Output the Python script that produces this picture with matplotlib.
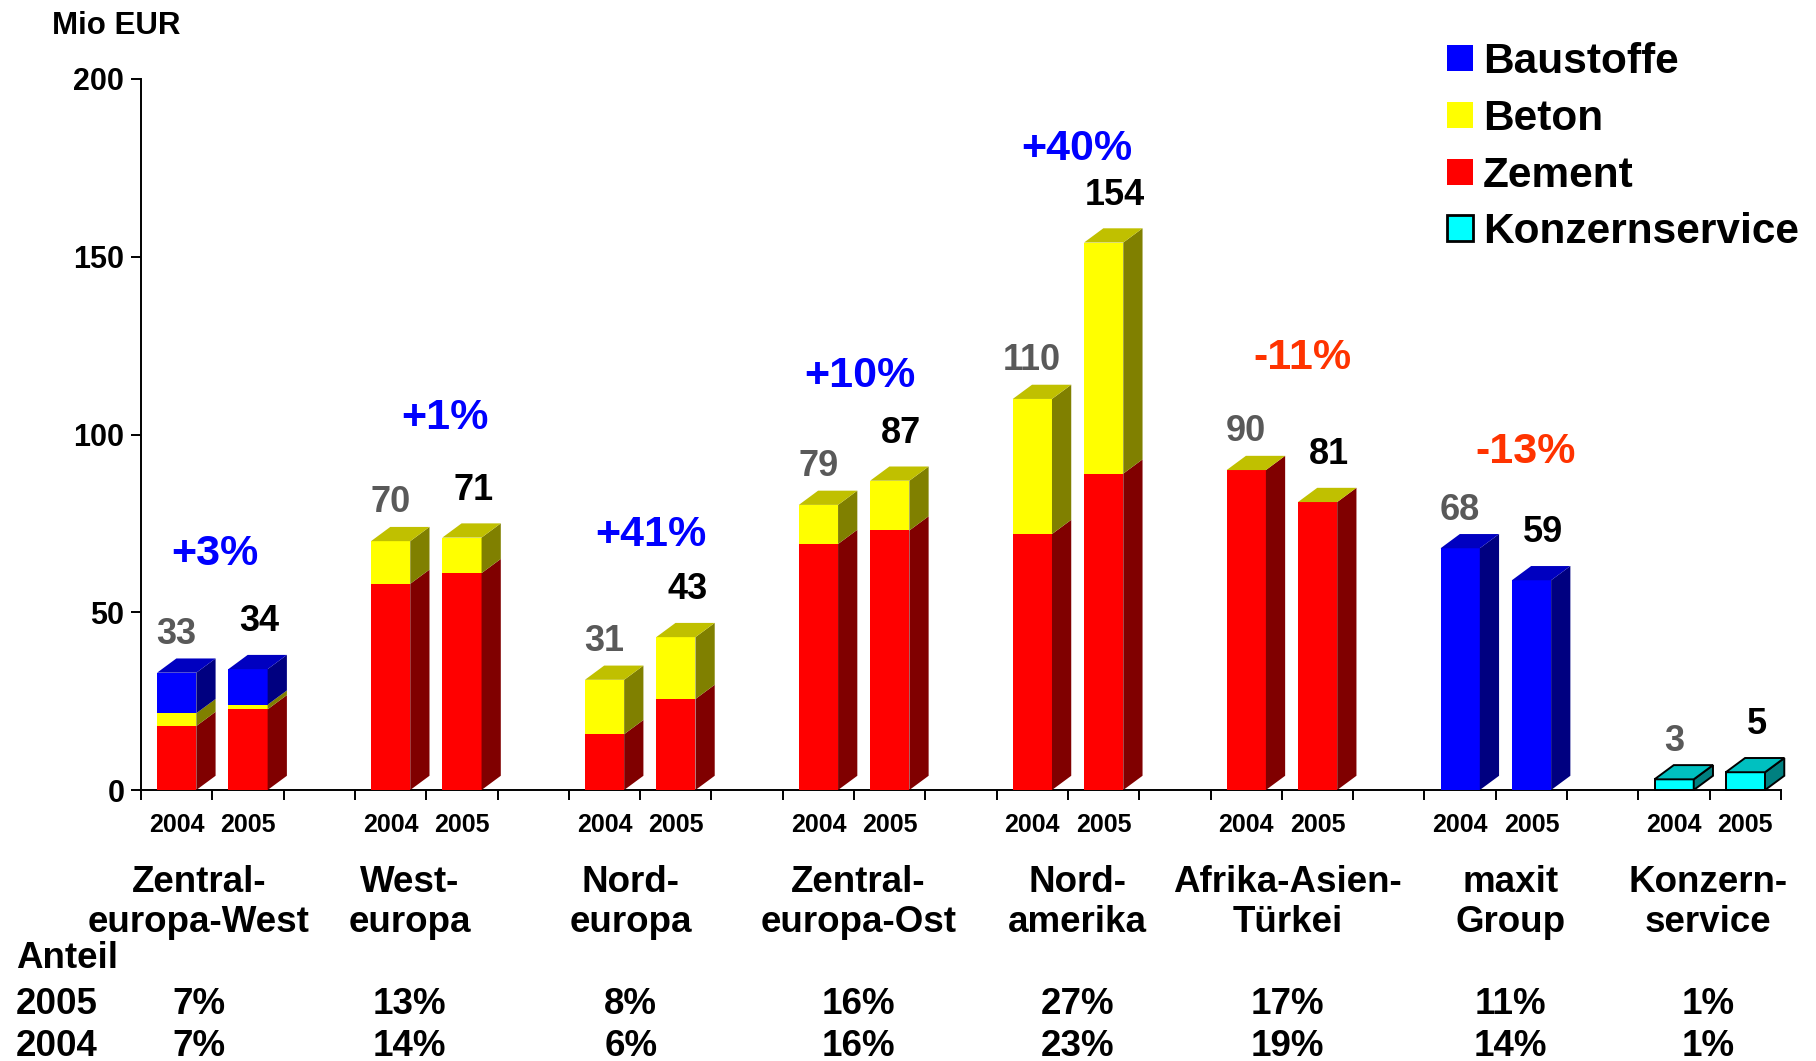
import matplotlib
matplotlib.use('Agg')
import matplotlib.pyplot as plt
from matplotlib.patches import Polygon, Rectangle
from matplotlib import transforms

# ---------------- data ----------------
groups = [['Zentral-', 'europa-West'], ['West-', 'europa'], ['Nord-', 'europa'],
          ['Zentral-', 'europa-Ost'], ['Nord-', 'amerika'], ['Afrika-Asien-', 'Türkei'],
          ['maxit', 'Group'], ['Konzern-', 'service']]
years = ['2004', '2005']

zement_2004 = [18.0, 58.0, 15.7, 69.2, 72.0, 90.0, None, None]
zement_2005 = [22.7, 61.0, 25.6, 73.0, 89.0, 81.0, None, None]
beton_2004 = [3.6, 12.0, 15.3, 11.0, 38.0, 0.0, None, None]
beton_2005 = [1.3, 10.0, 17.4, 14.0, 65.0, 0.0, None, None]
baustoffe_2004 = [11.4, None, None, None, None, None, 68.0, None]
baustoffe_2005 = [10.0, None, None, None, None, None, 59.0, None]
konzern_2004 = [None, None, None, None, None, None, None, 3.0]
konzern_2005 = [None, None, None, None, None, None, None, 5.0]

totals_2004 = ['33', '70', '31', '79', '110', '90', '68', '3']
totals_2005 = ['34', '71', '43', '87', '154', '81', '59', '5']
changes = ['+3%', '+1%', '+41%', '+10%', '+40%', '-11%', '-13%']
share_2005 = ['7%', '13%', '8%', '16%', '27%', '17%', '11%', '1%']
share_2004 = ['7%', '14%', '6%', '16%', '23%', '19%', '14%', '1%']

legend_names = ['Baustoffe', 'Beton', 'Zement', 'Konzernservice']

# ---------------- layout / style ----------------
W, H, DPI = 1816, 1061, 100
plt.rcParams['font.family'] = ['Liberation Sans', 'DejaVu Sans']
plt.rcParams['font.weight'] = 'bold'

AX_L, AX_R, AX_B, AX_T = 141, 1781, 790, 79  # pixel box of the axes
N_SLOTS = 23
BAR_OFF, BAR_W = 0.226, 0.55
DX, DY = 0.27, 4.0

pct_xy = [(1.03, 67.7), (4.26, 106.0), (7.15, 72.9), (10.08, 117.7),
          (13.13, 181.5), (16.29, 122.7), (19.42, 96.2)]
col_x = [0.81, 3.77, 6.87, 10.06, 13.13, 16.08, 19.21, 21.98]

styles = {
    'Zement':         ('#FF0000', '#800000', '#C00000', 'none', 0),
    'Beton':          ('#FFFF00', '#808000', '#C0C000', 'none', 0),
    'Baustoffe':      ('#0000FF', '#000080', '#0000C0', 'none', 0),
    'Konzernservice': ('#00FFFF', '#008080', '#00C0C0', 'black', 1.4),
}
stack_2004 = [('Zement', zement_2004), ('Beton', beton_2004),
              ('Baustoffe', baustoffe_2004), ('Konzernservice', konzern_2004)]
stack_2005 = [('Zement', zement_2005), ('Beton', beton_2005),
              ('Baustoffe', baustoffe_2005), ('Konzernservice', konzern_2005)]


def cap(fs):
    return 0.716 * fs / 72.0 * DPI


fig = plt.figure(figsize=(W / DPI, H / DPI), dpi=DPI)
ax = fig.add_axes([AX_L / W, 1 - AX_B / H, (AX_R - AX_L) / W, (AX_B - AX_T) / H])
ax.set_xlim(0, N_SLOTS)
ax.set_ylim(0, 200)
for s in ['top', 'right']:
    ax.spines[s].set_visible(False)
for s in ['left', 'bottom']:
    ax.spines[s].set_linewidth(1.4)
ax.set_yticks([0, 50, 100, 150, 200])
ax.set_xticks(range(N_SLOTS + 1))
ax.set_xticklabels([])
ax.tick_params(axis='both', direction='out', length=7, width=1.4)
ax.tick_params(axis='y', labelsize=22, pad=5)
for lab in ax.get_yticklabels():
    lab.set_fontweight('bold')

# ---------------- 3D stacked bars ----------------
VAL_FS = 26
for k, stack in enumerate([stack_2004, stack_2005]):
    for g in range(len(groups)):
        slot = 3 * g + k
        xl = slot + BAR_OFF
        xr = xl + BAR_W
        bottom = 0.0
        last = None
        for name, vals in stack:
            v = vals[g]
            if v is None:
                continue
            front, side, top, ec, lw = styles[name]
            ax.bar(xl, v, width=BAR_W, bottom=bottom, align='edge', color=front,
                   edgecolor=ec, linewidth=lw, zorder=3, clip_on=False)
            if v > 0:
                ax.add_patch(Polygon([(xr, bottom), (xr + DX, bottom + DY),
                                      (xr + DX, bottom + v + DY), (xr, bottom + v)],
                                     closed=True, facecolor=side, edgecolor=ec,
                                     linewidth=lw, zorder=3, clip_on=False))
            bottom += v
            last = name
        front, side, top, ec, lw = styles[last]
        ax.add_patch(Polygon([(xl, bottom), (xl + DX, bottom + DY),
                              (xr + DX, bottom + DY), (xr, bottom)],
                             closed=True, facecolor=top, edgecolor=ec,
                             linewidth=lw, zorder=4, clip_on=False))
        # value label
        tr = transforms.offset_copy(ax.transData, fig=fig, x=0, y=-cap(VAL_FS) / 2, units='dots')
        if k == 0:
            ax.text(slot + 0.5, bottom + 11.7, totals_2004[g], transform=tr, ha='center',
                    va='baseline', fontsize=VAL_FS, fontweight='bold', color='#595959', zorder=5)
        else:
            ax.text(slot + 0.66, bottom + 14.3, totals_2005[g], transform=tr, ha='center',
                    va='baseline', fontsize=VAL_FS, fontweight='bold', color='black', zorder=5)

# ---------------- change labels ----------------
fs = 31
tr = transforms.offset_copy(ax.transData, fig=fig, x=0, y=-cap(fs) / 2, units='dots')
for (x, y), txt in zip(pct_xy, changes):
    col = '#0000FF' if txt.startswith('+') else '#FF3300'
    ax.text(x, y, txt, transform=tr, ha='center', va='baseline', fontsize=fs,
            fontweight='bold', color=col, zorder=5)

# ---------------- texts below axis ----------------
blend = transforms.blended_transform_factory(ax.transData, fig.transFigure)


def fy(ypx_center, fs):
    return 1 - (ypx_center + cap(fs) / 2) / H


GRP_FS = 26.5
for g in range(len(groups)):
    for k, yr in enumerate(years):
        ax.text(3 * g + k + 0.5, fy(823, 18), yr, transform=blend, ha='center',
                va='baseline', fontsize=18, fontweight='bold', clip_on=False)
    ax.text(col_x[g], fy(879, GRP_FS), groups[g][0], transform=blend, ha='center',
            va='baseline', fontsize=GRP_FS, fontweight='bold', clip_on=False)
    ax.text(col_x[g], fy(919, GRP_FS), groups[g][1], transform=blend, ha='center',
            va='baseline', fontsize=GRP_FS, fontweight='bold', clip_on=False)
    ax.text(col_x[g], fy(1001, 26.5), share_2005[g], transform=blend, ha='center',
            va='baseline', fontsize=26.5, fontweight='bold', clip_on=False)
    ax.text(col_x[g], fy(1043, 26.5), share_2004[g], transform=blend, ha='center',
            va='baseline', fontsize=26.5, fontweight='bold', clip_on=False)

fig.text(16 / W, fy(955, 26.5), 'Anteil', ha='left', va='baseline', fontsize=26.5, fontweight='bold')
fig.text(16 / W, fy(1001, 26.5), '2005', ha='left', va='baseline', fontsize=26.5, fontweight='bold')
fig.text(16 / W, fy(1043, 26.5), '2004', ha='left', va='baseline', fontsize=26.5, fontweight='bold')

fig.text(52 / W, fy(22.5, 22.5), 'Mio EUR', ha='left', va='baseline', fontsize=22.5, fontweight='bold')

# ---------------- legend ----------------
leg_rows = [58, 115, 172, 228]
SQ = 26
LEG_FS = 30.5
for name, yc in zip(legend_names, leg_rows):
    front, side, top, ec, lw = styles[name]
    fig.add_artist(Rectangle((1447 / W, 1 - (yc + SQ / 2) / H), SQ / W, SQ / H,
                             transform=fig.transFigure, facecolor=front,
                             edgecolor=('black' if ec != 'none' else 'none'),
                             linewidth=(2 if ec != 'none' else 0)))
    fig.text(1483 / W, fy(yc, LEG_FS), name, ha='left', va='baseline', fontsize=LEG_FS,
             fontweight='bold')

fig.savefig('out.png', dpi=DPI)
